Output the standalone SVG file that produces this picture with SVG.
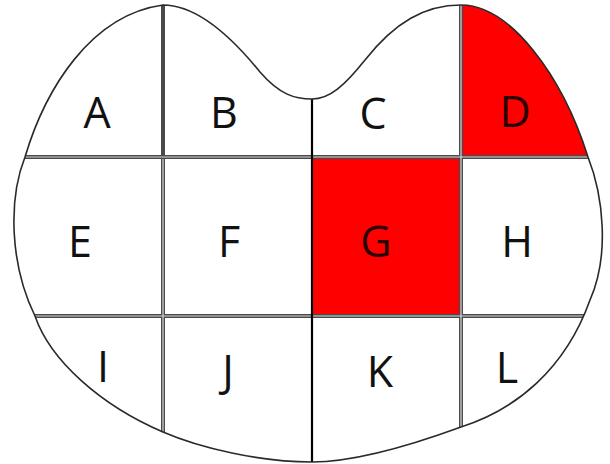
<svg xmlns="http://www.w3.org/2000/svg" width="610" height="464" viewBox="0 0 610 464">
<style>
.lbl{font-family:"Open Sans","Liberation Sans",sans-serif;font-size:43px;text-anchor:middle;fill:#111}
.lbl.r{fill:#2a0000}
.dbl{stroke:#4a4a4a;stroke-width:4;fill:none}
.dblc{stroke:#d8d8d8;stroke-width:1.2;fill:none}
.sgl{stroke:#000;stroke-width:2.2;fill:none}
.outline{fill:none;stroke:#2a2a2a;stroke-width:1.6}
</style>
<defs>
<path id="shape" d="M163,5 C195,5 230,35 260,72 C280,95 295,99 312,99 C330,99 345,85 365,60 C395,22 425,5 461,5 C510,5 562,75 588,157 C603,195 610,255 590,300 C565,370 515,410 461,427 C420,442 360,462 312,462 C260,462 200,448 163,432 C100,405 50,360 35,316 C10,265 8,200 25,157 C45,90 90,15 163,5 Z"/>
<clipPath id="clip"><use href="#shape"/></clipPath>
</defs>
<rect width="610" height="464" fill="#fff"/>
<use href="#shape" fill="#fff"/>
<g clip-path="url(#clip)">
<g id="D-fill"><path d="M461,5 C510,5 562,75 588,157 L461,157 Z" fill="#ff0000"/></g>
<g id="G-fill"><rect x="312" y="157" width="149" height="159" fill="#ff0000"/></g>
<g id="connectors">
<line class="dbl" x1="0" y1="157" x2="610" y2="157"/>
<line class="dbl" x1="0" y1="316" x2="610" y2="316"/>
<line class="dbl" x1="163" y1="0" x2="163" y2="464"/>
<line class="dbl" x1="461" y1="0" x2="461" y2="464"/>
<line class="dblc" x1="0" y1="157" x2="610" y2="157"/>
<line class="dblc" x1="0" y1="316" x2="610" y2="316"/>
<line class="dblc" x1="163" y1="159" x2="163" y2="464"/>
<line class="dblc" x1="461" y1="0" x2="461" y2="464"/>
<line class="sgl" x1="312" y1="95" x2="312" y2="464"/>
</g>
</g>
<use href="#shape" class="outline"/>
<g id="node-A"><text class="lbl" x="97" y="128">A</text></g>
<g id="node-B"><text class="lbl" x="224" y="128">B</text></g>
<g id="node-C"><text class="lbl" x="373" y="129">C</text></g>
<g id="node-D"><text class="lbl r" x="515" y="127">D</text></g>
<g id="node-E"><text class="lbl" x="80" y="257">E</text></g>
<g id="node-F"><text class="lbl" x="229" y="257">F</text></g>
<g id="node-G"><text class="lbl r" x="376" y="257">G</text></g>
<g id="node-H"><text class="lbl" x="517" y="257">H</text></g>
<g id="node-I"><text class="lbl" x="103" y="382">I</text></g>
<g id="node-J"><text class="lbl" x="228" y="386">J</text></g>
<g id="node-K"><text class="lbl" x="380" y="387">K</text></g>
<g id="node-L"><text class="lbl" x="507" y="383">L</text></g>
</svg>
